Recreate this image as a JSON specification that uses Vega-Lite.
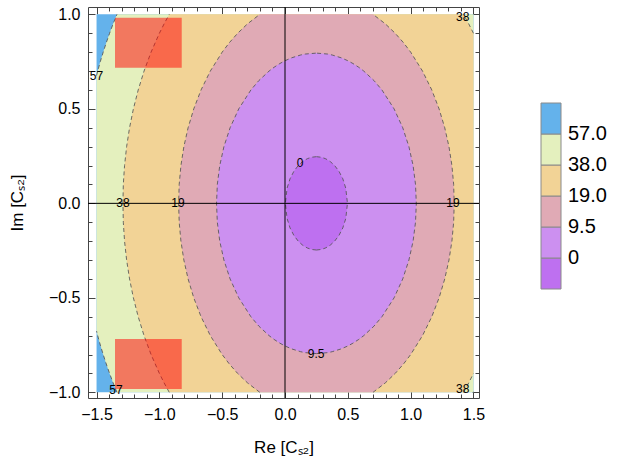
{
  "$schema": "https://vega.github.io/schema/vega-lite/v6.json",
  "width": 391,
  "height": 391,
  "autosize": {"type": "none"},
  "padding": {"left": 88, "top": 7, "right": 161, "bottom": 70},
  "background": "white",
  "config": {
    "view": {"stroke": null},
    "font": "Liberation Sans",
    "axis": {"labelFont": "Liberation Sans", "titleFont": "Liberation Sans", "labelFontSize": 16, "titleFontSize": 17, "titleFontWeight": "normal", "labelColor": "#000", "titleColor": "#000", "domainColor": "#444", "tickColor": "#444", "grid": false}
  },
  "datasets": {
    "rects": [
      {"k": "bg", "r": 5.5, "x": -1.5, "x2": 1.5, "y": -1, "y2": 1},
      {"k": "red", "r": 0, "x": -1.353, "x2": -0.822, "y": 0.718, "y2": 0.982},
      {"k": "red", "r": 0, "x": -1.353, "x2": -0.822, "y": -0.982, "y2": -0.718}
    ],
    "rules": [
      {"x": 0, "x2": 0, "y": -1.03, "y2": 1.039},
      {"x": -1.568, "x2": 1.544, "y": 0, "y2": 0}
    ],
    "labels": [
      {"t": "57", "x": -1.5, "y": 0.675},
      {"t": "57", "x": -1.345, "y": -0.99},
      {"t": "38", "x": 1.414, "y": 0.986},
      {"t": "38", "x": 1.414, "y": -0.984},
      {"t": "38", "x": -1.29, "y": 0},
      {"t": "19", "x": -0.852, "y": 0},
      {"t": "19", "x": 1.337, "y": 0},
      {"t": "0", "x": 0.12, "y": 0.215},
      {"t": "9.5", "x": 0.248, "y": -0.795}
    ],
    "bands": [
      {"r": 4.5, "g": "b", "y": -1, "x": -1.3375, "x2": 1.5},
      {"r": 4.5, "g": "b", "y": -0.95, "x": -1.368, "x2": 1.5},
      {"r": 4.5, "g": "b", "y": -0.9, "x": -1.3962, "x2": 1.5},
      {"r": 4.5, "g": "b", "y": -0.85, "x": -1.4226, "x2": 1.5},
      {"r": 4.5, "g": "b", "y": -0.8, "x": -1.4471, "x2": 1.5},
      {"r": 4.5, "g": "b", "y": -0.75, "x": -1.47, "x2": 1.5},
      {"r": 4.5, "g": "b", "y": -0.7, "x": -1.4907, "x2": 1.5},
      {"r": 4.5, "g": "b", "y": -0.676, "x": -1.4999, "x2": 1.5},
      {"r": 4.5, "g": "t", "y": 0.676, "x": -1.4999, "x2": 1.5},
      {"r": 4.5, "g": "t", "y": 0.7, "x": -1.4907, "x2": 1.5},
      {"r": 4.5, "g": "t", "y": 0.75, "x": -1.47, "x2": 1.5},
      {"r": 4.5, "g": "t", "y": 0.8, "x": -1.4471, "x2": 1.5},
      {"r": 4.5, "g": "t", "y": 0.85, "x": -1.4226, "x2": 1.5},
      {"r": 4.5, "g": "t", "y": 0.9, "x": -1.3962, "x2": 1.5},
      {"r": 4.5, "g": "t", "y": 0.95, "x": -1.368, "x2": 1.5},
      {"r": 4.5, "g": "t", "y": 1, "x": -1.3375, "x2": 1.5},

      {"r": 3.5, "g": "b", "y": -1, "x": -0.9213, "x2": 1.4213},
      {"r": 3.5, "g": "b", "y": -0.95, "x": -0.9622, "x2": 1.4622},
      {"r": 3.5, "g": "b", "y": -0.9, "x": -0.9998, "x2": 1.4998},
      {"r": 3.5, "g": "b", "y": -0.8, "x": -1.0661, "x2": 1.5},
      {"r": 3.5, "g": "b", "y": -0.7, "x": -1.1219, "x2": 1.5},
      {"r": 3.5, "g": "b", "y": -0.6, "x": -1.1684, "x2": 1.5},
      {"r": 3.5, "g": "b", "y": -0.5, "x": -1.2067, "x2": 1.5},
      {"r": 3.5, "g": "b", "y": -0.4, "x": -1.2373, "x2": 1.5},
      {"r": 3.5, "g": "b", "y": -0.3, "x": -1.2606, "x2": 1.5},
      {"r": 3.5, "g": "b", "y": -0.2, "x": -1.2771, "x2": 1.5},
      {"r": 3.5, "g": "b", "y": -0.1, "x": -1.2869, "x2": 1.5},
      {"r": 3.5, "g": "b", "y": 0, "x": -1.2901, "x2": 1.5},
      {"r": 3.5, "g": "t", "y": 0, "x": -1.2901, "x2": 1.5},
      {"r": 3.5, "g": "t", "y": 0.1, "x": -1.2869, "x2": 1.5},
      {"r": 3.5, "g": "t", "y": 0.2, "x": -1.2771, "x2": 1.5},
      {"r": 3.5, "g": "t", "y": 0.3, "x": -1.2606, "x2": 1.5},
      {"r": 3.5, "g": "t", "y": 0.4, "x": -1.2373, "x2": 1.5},
      {"r": 3.5, "g": "t", "y": 0.5, "x": -1.2067, "x2": 1.5},
      {"r": 3.5, "g": "t", "y": 0.6, "x": -1.1684, "x2": 1.5},
      {"r": 3.5, "g": "t", "y": 0.7, "x": -1.1219, "x2": 1.5},
      {"r": 3.5, "g": "t", "y": 0.8, "x": -1.0661, "x2": 1.5},
      {"r": 3.5, "g": "t", "y": 0.9, "x": -0.9998, "x2": 1.4998},
      {"r": 3.5, "g": "t", "y": 0.95, "x": -0.9622, "x2": 1.4622},
      {"r": 3.5, "g": "t", "y": 1, "x": -0.9213, "x2": 1.4213},

      {"r": 2.5, "g": "a", "y": -1, "x": -0.2006, "x2": 0.7006},
      {"r": 2.5, "g": "a", "y": -0.95, "x": -0.2982, "x2": 0.7982},
      {"r": 2.5, "g": "a", "y": -0.9, "x": -0.3769, "x2": 0.8769},
      {"r": 2.5, "g": "a", "y": -0.85, "x": -0.4432, "x2": 0.9432},
      {"r": 2.5, "g": "a", "y": -0.8, "x": -0.5003, "x2": 1.0003},
      {"r": 2.5, "g": "a", "y": -0.7, "x": -0.5944, "x2": 1.0944},
      {"r": 2.5, "g": "a", "y": -0.6, "x": -0.6682, "x2": 1.1682},
      {"r": 2.5, "g": "a", "y": -0.5, "x": -0.7262, "x2": 1.2262},
      {"r": 2.5, "g": "a", "y": -0.4, "x": -0.7713, "x2": 1.2713},
      {"r": 2.5, "g": "a", "y": -0.3, "x": -0.805, "x2": 1.305},
      {"r": 2.5, "g": "a", "y": -0.2, "x": -0.8284, "x2": 1.3284},
      {"r": 2.5, "g": "a", "y": -0.1, "x": -0.8422, "x2": 1.3422},
      {"r": 2.5, "g": "a", "y": 0, "x": -0.8468, "x2": 1.3468},
      {"r": 2.5, "g": "a", "y": 0.1, "x": -0.8422, "x2": 1.3422},
      {"r": 2.5, "g": "a", "y": 0.2, "x": -0.8284, "x2": 1.3284},
      {"r": 2.5, "g": "a", "y": 0.3, "x": -0.805, "x2": 1.305},
      {"r": 2.5, "g": "a", "y": 0.4, "x": -0.7713, "x2": 1.2713},
      {"r": 2.5, "g": "a", "y": 0.5, "x": -0.7262, "x2": 1.2262},
      {"r": 2.5, "g": "a", "y": 0.6, "x": -0.6682, "x2": 1.1682},
      {"r": 2.5, "g": "a", "y": 0.7, "x": -0.5944, "x2": 1.0944},
      {"r": 2.5, "g": "a", "y": 0.8, "x": -0.5003, "x2": 1.0003},
      {"r": 2.5, "g": "a", "y": 0.85, "x": -0.4432, "x2": 0.9432},
      {"r": 2.5, "g": "a", "y": 0.9, "x": -0.3769, "x2": 0.8769},
      {"r": 2.5, "g": "a", "y": 0.95, "x": -0.2982, "x2": 0.7982},
      {"r": 2.5, "g": "a", "y": 1, "x": -0.2006, "x2": 0.7006},

      {"r": 1.5, "g": "a", "y": -0.795, "x": 0.25, "x2": 0.25},
      {"r": 1.5, "g": "a", "y": -0.79, "x": 0.161, "x2": 0.339},
      {"r": 1.5, "g": "a", "y": -0.785, "x": 0.1244, "x2": 0.3756},
      {"r": 1.5, "g": "a", "y": -0.77, "x": 0.0523, "x2": 0.4477},
      {"r": 1.5, "g": "a", "y": -0.755, "x": 0.001, "x2": 0.499},
      {"r": 1.5, "g": "a", "y": -0.74, "x": -0.0405, "x2": 0.5405},
      {"r": 1.5, "g": "a", "y": -0.72, "x": -0.087, "x2": 0.587},
      {"r": 1.5, "g": "a", "y": -0.7, "x": -0.1268, "x2": 0.6268},
      {"r": 1.5, "g": "a", "y": -0.65, "x": -0.2077, "x2": 0.7077},
      {"r": 1.5, "g": "a", "y": -0.6, "x": -0.2715, "x2": 0.7715},
      {"r": 1.5, "g": "a", "y": -0.5, "x": -0.3681, "x2": 0.8681},
      {"r": 1.5, "g": "a", "y": -0.4, "x": -0.437, "x2": 0.937},
      {"r": 1.5, "g": "a", "y": -0.3, "x": -0.4862, "x2": 0.9862},
      {"r": 1.5, "g": "a", "y": -0.2, "x": -0.5194, "x2": 1.0194},
      {"r": 1.5, "g": "a", "y": -0.1, "x": -0.5387, "x2": 1.0387},
      {"r": 1.5, "g": "a", "y": 0, "x": -0.545, "x2": 1.045},
      {"r": 1.5, "g": "a", "y": 0.1, "x": -0.5387, "x2": 1.0387},
      {"r": 1.5, "g": "a", "y": 0.2, "x": -0.5194, "x2": 1.0194},
      {"r": 1.5, "g": "a", "y": 0.3, "x": -0.4862, "x2": 0.9862},
      {"r": 1.5, "g": "a", "y": 0.4, "x": -0.437, "x2": 0.937},
      {"r": 1.5, "g": "a", "y": 0.5, "x": -0.3681, "x2": 0.8681},
      {"r": 1.5, "g": "a", "y": 0.6, "x": -0.2715, "x2": 0.7715},
      {"r": 1.5, "g": "a", "y": 0.65, "x": -0.2077, "x2": 0.7077},
      {"r": 1.5, "g": "a", "y": 0.7, "x": -0.1268, "x2": 0.6268},
      {"r": 1.5, "g": "a", "y": 0.72, "x": -0.087, "x2": 0.587},
      {"r": 1.5, "g": "a", "y": 0.74, "x": -0.0405, "x2": 0.5405},
      {"r": 1.5, "g": "a", "y": 0.755, "x": 0.001, "x2": 0.499},
      {"r": 1.5, "g": "a", "y": 0.77, "x": 0.0523, "x2": 0.4477},
      {"r": 1.5, "g": "a", "y": 0.785, "x": 0.1244, "x2": 0.3756},
      {"r": 1.5, "g": "a", "y": 0.79, "x": 0.161, "x2": 0.339},
      {"r": 1.5, "g": "a", "y": 0.795, "x": 0.25, "x2": 0.25},

      {"r": 0.5, "g": "a", "y": -0.247, "x": 0.25, "x2": 0.25},
      {"r": 0.5, "g": "a", "y": -0.244, "x": 0.2117, "x2": 0.2883},
      {"r": 0.5, "g": "a", "y": -0.237, "x": 0.1805, "x2": 0.3195},
      {"r": 0.5, "g": "a", "y": -0.23, "x": 0.16, "x2": 0.34},
      {"r": 0.5, "g": "a", "y": -0.22, "x": 0.1378, "x2": 0.3622},
      {"r": 0.5, "g": "a", "y": -0.2, "x": 0.1051, "x2": 0.3949},
      {"r": 0.5, "g": "a", "y": -0.17, "x": 0.0708, "x2": 0.4292},
      {"r": 0.5, "g": "a", "y": -0.13, "x": 0.04, "x2": 0.46},
      {"r": 0.5, "g": "a", "y": -0.08, "x": 0.0163, "x2": 0.4837},
      {"r": 0.5, "g": "a", "y": 0, "x": 0.003, "x2": 0.497},
      {"r": 0.5, "g": "a", "y": 0.08, "x": 0.0163, "x2": 0.4837},
      {"r": 0.5, "g": "a", "y": 0.13, "x": 0.04, "x2": 0.46},
      {"r": 0.5, "g": "a", "y": 0.17, "x": 0.0708, "x2": 0.4292},
      {"r": 0.5, "g": "a", "y": 0.2, "x": 0.1051, "x2": 0.3949},
      {"r": 0.5, "g": "a", "y": 0.22, "x": 0.1378, "x2": 0.3622},
      {"r": 0.5, "g": "a", "y": 0.23, "x": 0.16, "x2": 0.34},
      {"r": 0.5, "g": "a", "y": 0.237, "x": 0.1805, "x2": 0.3195},
      {"r": 0.5, "g": "a", "y": 0.244, "x": 0.2117, "x2": 0.2883},
      {"r": 0.5, "g": "a", "y": 0.247, "x": 0.25, "x2": 0.25}
    ]
  },
  "layer": [
    {
      "data": {"name": "rects"},
      "transform": [{"filter": "datum.k == 'bg'"}],
      "mark": {"type": "rect"},
      "encoding": {
        "x": {"field": "x", "type": "quantitative", "scale": {"domain": [-1.568, 1.544], "nice": false, "zero": false},
              "axis": {"orient": "bottom", "values": [-1.5, -1, -0.5, 0, 0.5, 1, 1.5], "tickSize": -7, "labelPadding": 15, "format": ".1f", "title": "Re [Cₛ₂]", "titlePadding": 17}},
        "x2": {"field": "x2"},
        "y": {"field": "y", "type": "quantitative", "scale": {"domain": [-1.03, 1.039], "nice": false, "zero": false},
              "axis": {"orient": "left", "values": [-1, -0.5, 0, 0.5, 1], "tickSize": -7, "labelPadding": 15, "format": ".1f", "title": "Im [Cₛ₂]", "titlePadding": 22}},
        "y2": {"field": "y2"},
        "color": {"field": "r", "type": "quantitative",
                  "scale": {"type": "threshold", "domain": [1, 2, 3, 4, 5], "range": ["#be70f0", "#cc90f0", "#e0aab5", "#f2d396", "#e4f0be", "#64b2eb"]},
                  "legend": {"type": "gradient", "direction": "vertical", "orient": "none", "legendX": 453, "legendY": 96, "title": null, "padding": 0,
                             "gradientLength": 186, "gradientThickness": 20, "gradientStrokeColor": "#8a8a8a", "gradientStrokeWidth": 1,
                             "labelFontSize": 20, "labelFont": "Liberation Sans", "labelColor": "#000", "labelOffset": 7,
                             "labelExpr": "datum.value == 1 ? '0' : datum.value == 2 ? '9.5' : datum.value == 3 ? '19.0' : datum.value == 4 ? '38.0' : datum.value == 5 ? '57.0' : ''"}}
      }
    },
    {
      "data": {"name": "bands"},
      "transform": [{"filter": "datum.r == 4.5"}],
      "mark": {"type": "area", "orient": "horizontal"},
      "encoding": {
        "y": {"field": "y", "type": "quantitative", "scale": {"domain": [-1.03, 1.039], "nice": false, "zero": false},
              "axis": {"orient": "left", "values": [-1, -0.9, -0.8, -0.7, -0.6, -0.5, -0.4, -0.3, -0.2, -0.1, 0, 0.1, 0.2, 0.3, 0.4, 0.5, 0.6, 0.7, 0.8, 0.9, 1], "tickSize": -4, "labels": false, "domain": false, "title": null}},
        "x": {"field": "x", "type": "quantitative", "scale": {"domain": [-1.568, 1.544], "nice": false, "zero": false},
              "axis": {"orient": "bottom", "values": [-1.5, -1.4, -1.3, -1.2, -1.1, -1, -0.9, -0.8, -0.7, -0.6, -0.5, -0.4, -0.3, -0.2, -0.1, 0, 0.1, 0.2, 0.3, 0.4, 0.5, 0.6, 0.7, 0.8, 0.9, 1, 1.1, 1.2, 1.3, 1.4, 1.5], "tickSize": -4, "labels": false, "domain": false, "title": null}},
        "x2": {"field": "x2"},
        "color": {"field": "r", "type": "quantitative", "scale": {"type": "threshold", "domain": [1, 2, 3, 4, 5], "range": ["#be70f0", "#cc90f0", "#e0aab5", "#f2d396", "#e4f0be", "#64b2eb"]}}
      }
    },
    {
      "data": {"name": "bands"},
      "transform": [{"filter": "datum.r == 3.5"}],
      "mark": {"type": "area", "orient": "horizontal"},
      "encoding": {
        "y": {"field": "y", "type": "quantitative", "scale": {"domain": [-1.03, 1.039], "nice": false, "zero": false},
              "axis": {"orient": "right", "values": [-1, -0.9, -0.8, -0.7, -0.6, -0.5, -0.4, -0.3, -0.2, -0.1, 0, 0.1, 0.2, 0.3, 0.4, 0.5, 0.6, 0.7, 0.8, 0.9, 1], "tickSize": -4, "labels": false, "domain": true, "title": null}},
        "x": {"field": "x", "type": "quantitative", "scale": {"domain": [-1.568, 1.544], "nice": false, "zero": false},
              "axis": {"orient": "top", "values": [-1.5, -1.4, -1.3, -1.2, -1.1, -1, -0.9, -0.8, -0.7, -0.6, -0.5, -0.4, -0.3, -0.2, -0.1, 0, 0.1, 0.2, 0.3, 0.4, 0.5, 0.6, 0.7, 0.8, 0.9, 1, 1.1, 1.2, 1.3, 1.4, 1.5], "tickSize": -4, "labels": false, "domain": true, "title": null}},
        "x2": {"field": "x2"},
        "color": {"field": "r", "type": "quantitative", "scale": {"type": "threshold", "domain": [1, 2, 3, 4, 5], "range": ["#be70f0", "#cc90f0", "#e0aab5", "#f2d396", "#e4f0be", "#64b2eb"]}}
      }
    },
    {
      "data": {"name": "bands"},
      "transform": [{"filter": "datum.r == 2.5"}],
      "mark": {"type": "area", "orient": "horizontal"},
      "encoding": {
        "y": {"field": "y", "type": "quantitative", "scale": {"domain": [-1.03, 1.039], "nice": false, "zero": false},
              "axis": {"orient": "right", "values": [-1, -0.5, 0, 0.5, 1], "tickSize": -7, "labels": false, "domain": false, "title": null}},
        "x": {"field": "x", "type": "quantitative", "scale": {"domain": [-1.568, 1.544], "nice": false, "zero": false},
              "axis": {"orient": "top", "values": [-1.5, -1, -0.5, 0, 0.5, 1, 1.5], "tickSize": -7, "labels": false, "domain": false, "title": null}},
        "x2": {"field": "x2"},
        "color": {"field": "r", "type": "quantitative", "scale": {"type": "threshold", "domain": [1, 2, 3, 4, 5], "range": ["#be70f0", "#cc90f0", "#e0aab5", "#f2d396", "#e4f0be", "#64b2eb"]}}
      }
    },
    {
      "data": {"name": "bands"},
      "transform": [{"filter": "datum.r == 1.5"}],
      "mark": {"type": "area", "orient": "horizontal"},
      "encoding": {
        "y": {"field": "y", "type": "quantitative", "axis": null},
        "x": {"field": "x", "type": "quantitative", "axis": null},
        "x2": {"field": "x2"},
        "color": {"field": "r", "type": "quantitative", "scale": {"type": "threshold", "domain": [1, 2, 3, 4, 5], "range": ["#be70f0", "#cc90f0", "#e0aab5", "#f2d396", "#e4f0be", "#64b2eb"]}}
      }
    },
    {
      "data": {"name": "bands"},
      "transform": [{"filter": "datum.r == 0.5"}],
      "mark": {"type": "area", "orient": "horizontal"},
      "encoding": {
        "y": {"field": "y", "type": "quantitative", "axis": null},
        "x": {"field": "x", "type": "quantitative", "axis": null},
        "x2": {"field": "x2"},
        "color": {"field": "r", "type": "quantitative", "scale": {"type": "threshold", "domain": [1, 2, 3, 4, 5], "range": ["#be70f0", "#cc90f0", "#e0aab5", "#f2d396", "#e4f0be", "#64b2eb"]}}
      }
    },
    {
      "data": {"name": "bands"},
      "transform": [
        {"fold": ["x", "x2"], "as": ["side", "xv"]},
        {"filter": "datum.xv > -1.49995 && datum.xv < 1.49995"}
      ],
      "mark": {"type": "line", "color": "#555555", "strokeWidth": 1, "strokeDash": [4, 3], "opacity": 0.85},
      "encoding": {
        "x": {"field": "xv", "type": "quantitative", "axis": null},
        "y": {"field": "y", "type": "quantitative", "axis": null},
        "detail": [{"field": "r", "type": "nominal"}, {"field": "side", "type": "nominal"}, {"field": "g", "type": "nominal"}],
        "order": {"field": "y", "type": "quantitative"}
      }
    },
    {
      "data": {"name": "rects"},
      "transform": [{"filter": "datum.k == 'red'"}],
      "mark": {"type": "rect", "color": "#ff0000", "opacity": 0.5},
      "encoding": {
        "x": {"field": "x", "type": "quantitative", "axis": null},
        "x2": {"field": "x2"},
        "y": {"field": "y", "type": "quantitative", "axis": null},
        "y2": {"field": "y2"}
      }
    },
    {
      "data": {"name": "rules"},
      "mark": {"type": "rule", "color": "#000000", "strokeWidth": 1},
      "encoding": {
        "x": {"field": "x", "type": "quantitative", "axis": null},
        "x2": {"field": "x2"},
        "y": {"field": "y", "type": "quantitative", "axis": null},
        "y2": {"field": "y2"}
      }
    },
    {
      "data": {"name": "labels"},
      "mark": {"type": "text", "fontSize": 12, "font": "Liberation Sans", "color": "#000000", "align": "center", "baseline": "middle"},
      "encoding": {
        "x": {"field": "x", "type": "quantitative", "axis": null},
        "y": {"field": "y", "type": "quantitative", "axis": null},
        "text": {"field": "t"}
      }
    }
  ],
  "resolve": {"axis": {"x": "independent", "y": "independent"}}
}
